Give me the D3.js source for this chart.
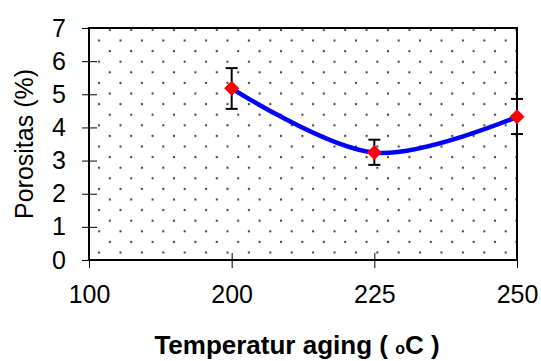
<!DOCTYPE html>
<html>
<head>
<meta charset="utf-8">
<script src="https://cdn.jsdelivr.net/npm/d3@7"></script>
<style>
  body { margin: 0; background: #fff; }
  text { font-family: "Liberation Sans", Arial, sans-serif; }
</style>
</head>
<body>
<svg id="chart" width="541" height="361"></svg>
<script>
// data
const xLabels = ["100", "200", "225", "250"];
const temps = ["200", "225", "250"];
const porositas = [5.18, 3.24, 4.32];
const errLow = [4.56, 2.87, 3.80];
const errHigh = [5.79, 3.63, 4.86];
const yTicks = [0, 1, 2, 3, 4, 5, 6, 7];

const margin = { top: 28, right: 24, bottom: 101, left: 89 };
const width = 541, height = 361;
const innerW = width - margin.left - margin.right;
const innerH = height - margin.top - margin.bottom;

const svg = d3.select("#chart");

const x = d3.scalePoint().domain(xLabels).range([0, innerW]);
const y = d3.scaleLinear().domain([0, 7]).range([innerH, 0]);

// dotted fill pattern
const defs = svg.append("defs");
const pat = defs.append("pattern")
  .attr("id", "dots")
  .attr("patternUnits", "userSpaceOnUse")
  .attr("width", 21.4).attr("height", 21.2)
  .attr("x", margin.left + 6.7).attr("y", margin.top + 5.7);
[[0, 0], [10.7, 10.6], [21.4, 0], [0, 21.2], [21.4, 21.2]].forEach(p => {
  pat.append("circle").attr("cx", p[0]).attr("cy", p[1]).attr("r", 1.15).attr("fill", "#444");
});

const g = svg.append("g").attr("transform", `translate(${margin.left},${margin.top})`);

g.append("rect")
  .attr("width", innerW).attr("height", innerH)
  .attr("fill", "url(#dots)");

// axes
const yAxis = g.append("g")
  .call(d3.axisLeft(y).tickValues(yTicks).tickSize(7).tickPadding(16).tickFormat(d3.format("d")));
yAxis.select(".domain").remove();
yAxis.selectAll("line").attr("x1", 8).attr("stroke", "#000");
yAxis.selectAll("text").style("font-size", "25px").attr("fill", "#000");

const xAxis = g.append("g")
  .attr("transform", `translate(0,${innerH})`)
  .call(d3.axisBottom(x).tickSize(8).tickPadding(17));
xAxis.select(".domain").remove();
xAxis.selectAll("line").attr("y1", d => d === "100" ? 0 : -7).attr("stroke", "#000");
xAxis.selectAll("text").style("font-size", "25px").attr("fill", "#000");

// frame
g.append("rect")
  .attr("width", innerW).attr("height", innerH)
  .attr("fill", "none").attr("stroke", "#000").attr("stroke-width", 2);

// smoothed line
const pts = temps.map((t, i) => [x(t), y(porositas[i])]);
g.append("path")
  .datum(pts)
  .attr("fill", "none")
  .attr("stroke", "#0000ff")
  .attr("stroke-width", 4.5)
  .attr("d", d3.line().curve(d3.curveCatmullRom.alpha(0.5)));

// error bars
const eb = g.selectAll(".err").data(temps).enter().append("g").attr("class", "err");
eb.append("line")
  .attr("x1", d => x(d)).attr("x2", d => x(d))
  .attr("y1", (d, i) => y(errLow[i])).attr("y2", (d, i) => y(errHigh[i]))
  .attr("stroke", "#000").attr("stroke-width", 2);
eb.append("line")
  .attr("x1", d => x(d) - 6).attr("x2", d => x(d) + 6)
  .attr("y1", (d, i) => y(errLow[i])).attr("y2", (d, i) => y(errLow[i]))
  .attr("stroke", "#000").attr("stroke-width", 2);
eb.append("line")
  .attr("x1", d => x(d) - 6).attr("x2", d => x(d) + 6)
  .attr("y1", (d, i) => y(errHigh[i])).attr("y2", (d, i) => y(errHigh[i]))
  .attr("stroke", "#000").attr("stroke-width", 2);

// diamond markers
g.selectAll(".mk").data(temps).enter().append("path")
  .attr("class", "mk")
  .attr("transform", (d, i) => `translate(${x(d)},${y(porositas[i])})`)
  .attr("d", "M0,-7.5L7.5,0L0,7.5L-7.5,0Z")
  .attr("fill", "#ff0000");

// axis titles
svg.append("text")
  .attr("transform", `translate(33,${margin.top + innerH / 2}) rotate(-90)`)
  .attr("text-anchor", "middle")
  .style("font-size", "25px")
  .text("Porositas (%)");

const xt = svg.append("text")
  .attr("x", 297).attr("y", 354)
  .attr("text-anchor", "middle")
  .style("font-size", "26px").style("font-weight", "bold");
xt.append("tspan").text("Temperatur aging ( ");
xt.append("tspan").style("font-size", "16px").text("o");
xt.append("tspan").text("C )");
</script>
</body>
</html>
